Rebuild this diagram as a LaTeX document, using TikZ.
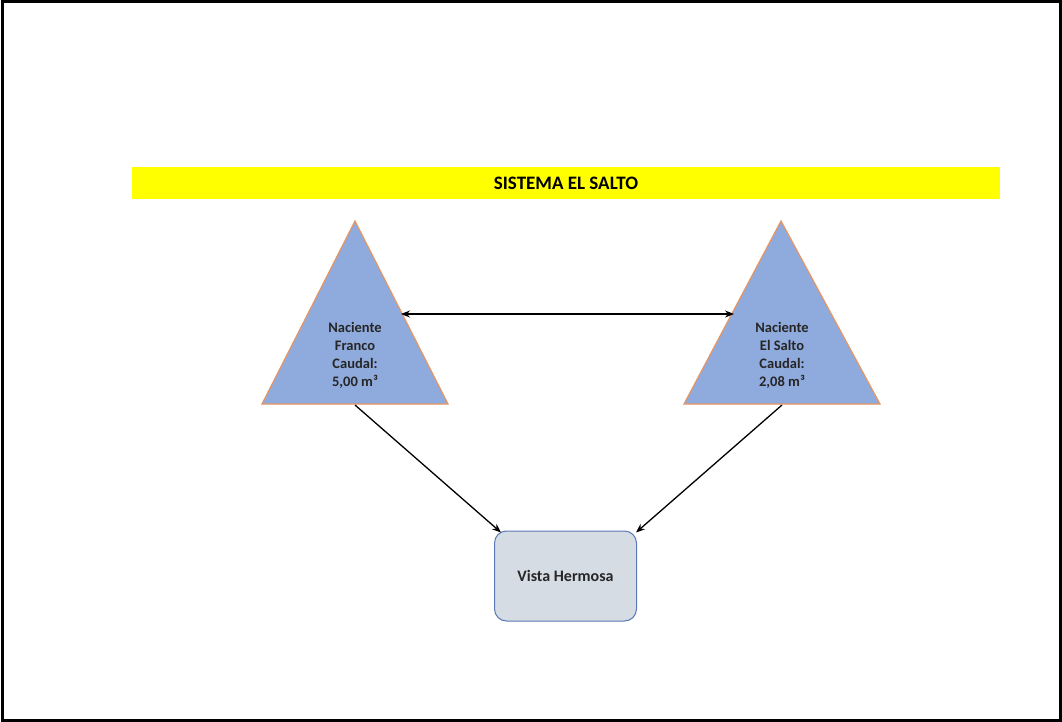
\documentclass[tikz,border=0pt]{standalone}
\usepackage{fontspec}
\setmainfont{Carlito}
\usetikzlibrary{arrows.meta}
\definecolor{barYellow}{RGB}{255,255,0}
\definecolor{triFill}{RGB}{143,170,220}
\definecolor{triEdge}{RGB}{230,150,100}
\definecolor{boxFill}{RGB}{214,220,228}
\definecolor{boxEdge}{RGB}{90,120,180}
\tikzset{
  tri/.style={fill=triFill, draw=triEdge, line width=1.2pt, line join=miter},
  trilabel/.style={font=\bfseries\fontsize{14.5}{18}\selectfont, align=center, text=black!85},
  link/.style={-{Stealth[length=9pt,width=7pt]}, line width=1.3pt, black},
  both/.style={{Stealth[length=9pt,width=7pt]}-{Stealth[length=9pt,width=7pt]}, line width=1.3pt, black},
}
\begin{document}
\begin{tikzpicture}[x=1pt,y=-1pt]
  \useasboundingbox (0,0) rectangle (1062,722);
  % page frame
  \draw[line width=3pt] (2,2) rectangle (1060,720);
  % title bar
  \node[fill=barYellow, minimum width=868pt, minimum height=32pt, inner sep=0pt,
        font=\bfseries\fontsize{19}{20}\selectfont] (title) at (566,183) {SISTEMA EL SALTO};
  % left spring
  \draw[tri] (355,221) -- (448,404) -- (262,404) -- cycle;
  \coordinate (fR) at (401,314);
  \coordinate (fB) at (355,405);
  \node[trilabel] (franco) at (355,355) {Naciente\\Franco\\Caudal:\\5,00 m³};
  % right spring
  \draw[tri] (781,221) -- (880,404) -- (684,404) -- cycle;
  \coordinate (sL) at (734,314);
  \coordinate (sB) at (782,405);
  \node[trilabel] (salto) at (782,355) {Naciente\\El Salto\\Caudal:\\2,08 m³};
  % destination
  \node[draw=boxEdge, fill=boxFill, line width=1pt, rounded corners=12pt,
        minimum width=142pt, minimum height=90pt, inner sep=0pt,
        font=\bfseries\fontsize{16}{18}\selectfont, text=black!85] (vista) at (565.5,576) {Vista Hermosa};
  \coordinate (vNW) at ([shift={(7,2)}]vista.north west);
  \coordinate (vNE) at ([shift={(-1,2)}]vista.north east);
  % connections
  \draw[both] (fR) -- (sL);
  \draw[link] (fB) -- (vNW);
  \draw[link] (sB) -- (vNE);
\end{tikzpicture}
\end{document}
